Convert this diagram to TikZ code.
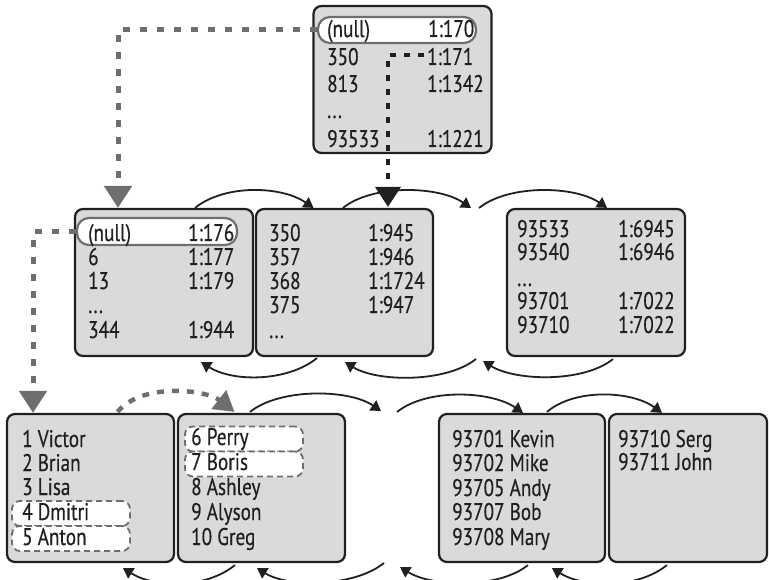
\documentclass[tikz,border=0pt]{standalone}
\usepackage{fontspec}
\setmainfont[FakeStretch=0.8,FakeBold=0.4]{PT Sans}
\usetikzlibrary{arrows.meta,calc}
\definecolor{boxfill}{HTML}{D9DADC}
\definecolor{ink}{HTML}{231F20}
\definecolor{gline}{HTML}{6D6E70}
\tikzset{
 page/.style={draw=ink, line width=2.2pt, fill=boxfill, rounded corners=8pt, inner sep=0pt, minimum height=147pt},
 hl/.style={draw=gline, line width=2.2pt, fill=white, rounded corners=12pt, inner sep=0pt},
 hld/.style={draw=gline, line width=1.8pt, dash pattern=on 6pt off 4pt, fill=white, rounded corners=8pt, inner sep=0pt, minimum width=118pt, minimum height=25pt},
 txt/.style={anchor=base west, inner sep=0pt, font=\fontsize{24}{24}\selectfont, text=ink},
 link/.style={draw=ink, line width=1.8pt, -{Triangle[length=10pt,width=12pt]}},
 gptr/.style={draw=gline, line width=5pt, dash pattern=on 7pt off 10pt, -{Triangle[length=22pt,width=27pt]}},
 gptrs/.style={draw=gline, line width=4.5pt, dash pattern=on 7pt off 8pt, -{Triangle[length=20pt,width=23pt]}},
 dptr/.style={draw=ink, line width=4pt, dash pattern=on 6pt off 8pt, -{Triangle[length=20pt,width=25pt]}},
}
\begin{document}
\begin{tikzpicture}[x=1pt,y=-1pt]
\useasboundingbox (0,0) rectangle (769,580);
% pages
\node[page, minimum width=178pt] (T) at (402.5,79.5) {};
\node[page, minimum width=178pt] (A) at (164,282.5) {};
\node[page, minimum width=177pt] (B) at (344.5,282.5) {};
\node[page, minimum width=178pt] (C) at (596,282.5) {};
\node[page, minimum width=167pt, minimum height=148pt] (D) at (90.5,488) {};
\node[page, minimum width=167pt, minimum height=148pt] (E) at (261.5,488) {};
\node[page, minimum width=166pt, minimum height=148pt] (F) at (522,488) {};
\node[page, minimum width=158pt, minimum height=148pt] (G) at (688,488) {};
% highlights
\node[hl, minimum width=158pt, minimum height=26pt] (tnull) at (397,30) {};
\node[hl, minimum width=160pt, minimum height=27pt] (anull) at (157,231.5) {};
\node[hld] (d4) at (71,513.5) {};
\node[hld] (d5) at (71,538.5) {};
\node[hld] (e6) at (244,439) {};
\node[hld] (e7) at (244,464) {};
% top page text
\node[txt] (t1) at (327,37) {(null)};
\node[txt] (t1r) at (428,37) {1:170};
\node[txt] (t2) at (327,65) {350};
\node[txt] (t2r) at (427,65) {1:171};
\node[txt] (t3) at (327,92) {813};
\node[txt] (t3r) at (427,92) {1:1342};
\node[txt] (t4) at (327,118) {...};
\node[txt] (t5) at (327,147) {93533};
\node[txt] (t5r) at (427,147) {1:1221};
% page A
\node[txt] (a1) at (88,241) {(null)};
\node[txt] (a1r) at (188,241) {1:176};
\node[txt] (a2) at (88,265) {6};
\node[txt] (a2r) at (188,265) {1:177};
\node[txt] (a3) at (88,289) {13};
\node[txt] (a3r) at (188,289) {1:179};
\node[txt] (a4) at (88,313) {...};
\node[txt] (a5) at (88,338) {344};
\node[txt] (a5r) at (188,338) {1:944};
% page B
\node[txt] (b1) at (269,241) {350};
\node[txt] (b1r) at (368,241) {1:945};
\node[txt] (b2) at (269,265) {357};
\node[txt] (b2r) at (368,265) {1:946};
\node[txt] (b3) at (269,289) {368};
\node[txt] (b3r) at (368,289) {1:1724};
\node[txt] (b4) at (269,313) {375};
\node[txt] (b4r) at (368,313) {1:947};
\node[txt] (b5) at (269,338) {...};
% page C
\node[txt] (c1) at (517,237) {93533};
\node[txt] (c1r) at (618,237) {1:6945};
\node[txt] (c2) at (517,260) {93540};
\node[txt] (c2r) at (618,260) {1:6946};
\node[txt] (c3) at (517,286) {...};
\node[txt] (c4) at (517,309) {93701};
\node[txt] (c4r) at (618,309) {1:7022};
\node[txt] (c5) at (517,333) {93710};
\node[txt] (c5r) at (618,333) {1:7022};
% page D
\node[txt] (dd1) at (22,447) {1 Victor};
\node[txt] (dd2) at (22,471) {2 Brian};
\node[txt] (dd3) at (22,495) {3 Lisa};
\node[txt] (dd4) at (22,520) {4 Dmitri};
\node[txt] (dd5) at (22,545) {5 Anton};
% page E
\node[txt] (ee1) at (191,445) {6 Perry};
\node[txt] (ee2) at (191,470) {7 Boris};
\node[txt] (ee3) at (191,495) {8 Ashley};
\node[txt] (ee4) at (191,520) {9 Alyson};
\node[txt] (ee5) at (191,545) {10 Greg};
% page F
\node[txt] (ff1) at (452,447) {93701 Kevin};
\node[txt] (ff2) at (452,471) {93702 Mike};
\node[txt] (ff3) at (452,496) {93705 Andy};
\node[txt] (ff4) at (452,520) {93707 Bob};
\node[txt] (ff5) at (452,545) {93708 Mary};
% page G
\node[txt] (gg1) at (618,447) {93710 Serg};
\node[txt] (gg2) at (618,470) {93711 John};
% free ends of sibling links
\coordinate (gapA) at (471,208);
\coordinate (gapB) at (479,208);
\coordinate (gapC) at (476,359);
\coordinate (gapD) at (483,361);
\coordinate (gapE) at (381,411);
\coordinate (gapF) at (397,412);
\coordinate (gapG) at (384,563);
\coordinate (gapH) at (400,567);
\coordinate (ds) at (424,55);
% middle level sibling links
\draw[link] ($(A.north)+(31,0)$) .. controls +(30,-24) and +(-32,-22) .. ($(B.north)+(-31,0)$);
\draw[link] ($(B.north)+(-1.5,0)$) .. controls +(30,-24) and +(-32,-22) .. (gapA);
\draw[link] (gapB) .. controls +(30,-24) and +(-32,-22) .. ($(C.north)+(11,0)$);
\draw[link] ($(B.south)+(-27.5,1)$) .. controls +(-30,24) and +(32,20) .. ($(A.south)+(37,5)$);
\draw[link] (gapC) .. controls +(-30,24) and +(32,20) .. ($(B.south)+(0.5,5)$);
\draw[link] ($(C.south)+(17,2)$) .. controls +(-30,24) and +(32,20) .. (gapD);
% leaf level sibling links
\draw[gptrs] ($(D.north)+(27,-1)$) .. controls +(25,-30) and +(-28,-22) .. ($(E.north)+(-27,-1)$);
\draw[link] ($(E.north)+(-11.5,-1)$) .. controls +(30,-24) and +(-32,-22) .. (gapE);
\draw[link] (gapF) .. controls +(30,-24) and +(-32,-22) .. ($(F.north)+(1,0)$);
\draw[link] ($(F.north)+(25,-1)$) .. controls +(28,-24) and +(-30,-22) .. ($(G.north)+(-26,0)$);
\draw[link] ($(E.south)+(-26.5,2)$) .. controls +(-30,24) and +(32,20) .. ($(D.south)+(32.5,5)$);
\draw[link] (gapG) .. controls +(-30,24) and +(32,20) .. ($(E.south)+(-4.5,5)$);
\draw[link] ($(F.south)+(6,2)$) .. controls +(-30,24) and +(32,20) .. (gapH);
\draw[link] ($(G.south)+(-21,2)$) .. controls +(-30,24) and +(32,20) .. ($(F.south)+(30,5)$);
% pointers down the tree
\draw[gptr] (tnull.west) -| ($(A.north)+(-46,0)$);
\draw[gptr] (anull.west) -| ($(D.north)+(-57.5,0)$);
\draw[dptr] (ds) -| ($(B.north)+(43.5,-1)$);
\end{tikzpicture}
\end{document}
